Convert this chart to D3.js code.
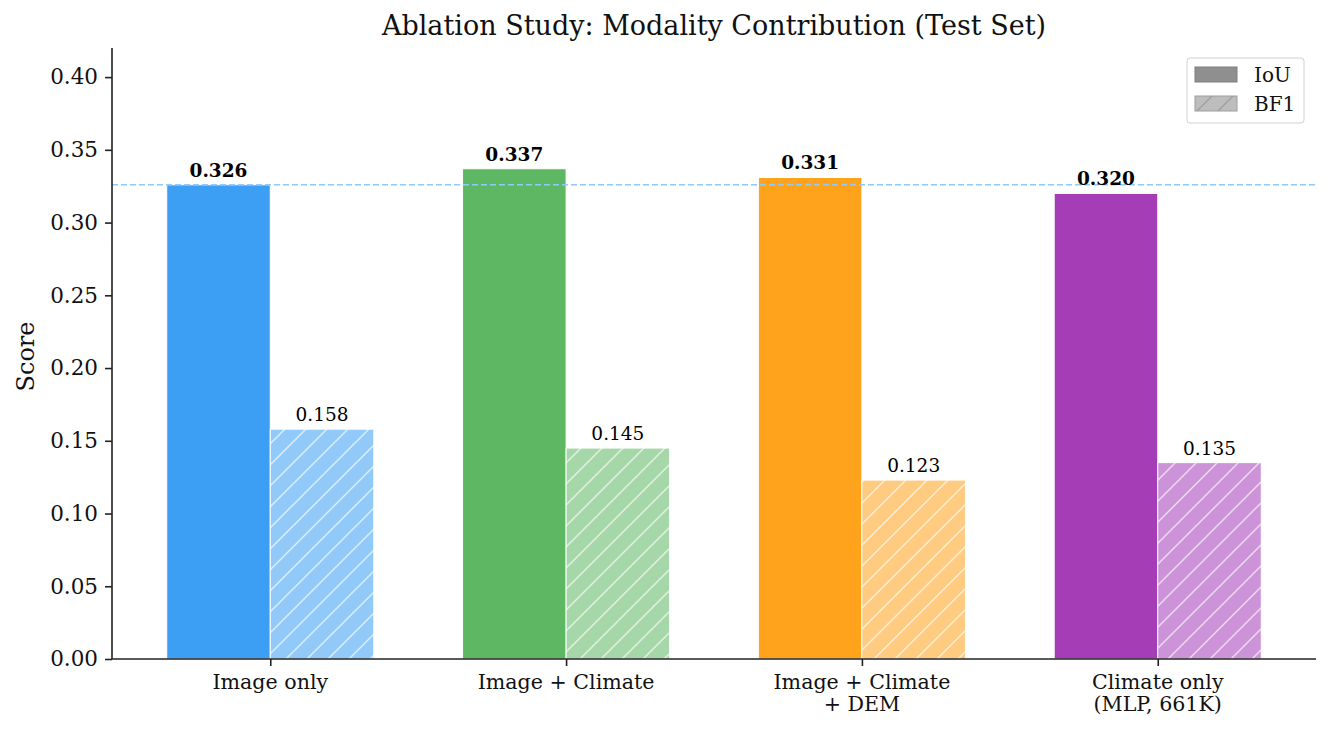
<!DOCTYPE html>
<html>
<head>
<meta charset="utf-8">
<script src="https://cdn.jsdelivr.net/npm/d3@7"></script>
<style>
  body { margin: 0; background: #fff; }
  svg { font-family: 'DejaVu Serif', serif; }
</style>
</head>
<body>
<div id="chart"></div>
<script>
// Data
const categories = ['Image only', 'Image + Climate', 'Image + Climate\n+ DEM', 'Climate only\n(MLP, 661K)'];
const iouValues = [0.326, 0.337, 0.331, 0.320];
const bf1Values = [0.158, 0.145, 0.123, 0.135];
const yTicks = [0, 0.05, 0.10, 0.15, 0.20, 0.25, 0.30, 0.35, 0.40];
const baseline = 0.326;

const iouColors = ['#3c9ff4', '#5eb762', '#ffa21c', '#a53db6'];
const bf1Colors = ['#91caf8', '#a6d7a8', '#ffcb80', '#cd93d8'];

const width = 1330;
const height = 730;
const margin = { top: 48, right: 14, bottom: 71, left: 112 };
const barW = 0.35;

const svg = d3.select('#chart')
  .append('svg')
  .attr('width', width)
  .attr('height', height);

const x = d3.scaleLinear()
  .domain([-0.535, categories.length - 1 + 0.535])
  .range([margin.left, width - margin.right]);

const y = d3.scaleLinear()
  .domain([0, 0.42])
  .range([height - margin.bottom, margin.top]);

// hatch patterns for BF1 bars
const defs = svg.append('defs');
const hatchPath = 'M-2,23 L23,-2 M-12,12 L12,-12 M9,33 L33,9';
bf1Colors.forEach((c, i) => {
  const p = defs.append('pattern')
    .attr('id', 'hatch' + i)
    .attr('patternUnits', 'userSpaceOnUse')
    .attr('width', 21)
    .attr('height', 21);
  p.append('rect').attr('width', 21).attr('height', 21).attr('fill', c);
  p.append('path')
    .attr('d', hatchPath)
    .attr('stroke', 'rgba(255,255,255,0.65)')
    .attr('stroke-width', 1.5);
});
defs.append('pattern')
  .attr('id', 'hatchLegend')
  .attr('patternUnits', 'userSpaceOnUse')
  .attr('width', 21)
  .attr('height', 21)
  .call(p => {
    p.append('rect').attr('width', 21).attr('height', 21).attr('fill', '#bdbdbd');
    p.append('path')
      .attr('d', hatchPath)
      .attr('stroke', '#9e9e9e')
      .attr('stroke-width', 1.4);
  });

// IoU bars
svg.append('g')
  .selectAll('rect')
  .data(iouValues)
  .join('rect')
  .attr('x', (d, i) => x(i - barW))
  .attr('y', d => y(d))
  .attr('width', (d, i) => x(i) - x(i - barW))
  .attr('height', d => y(0) - y(d))
  .attr('fill', (d, i) => iouColors[i])
  .attr('stroke', '#fff')
  .attr('stroke-width', 1);

// BF1 bars
svg.append('g')
  .selectAll('rect')
  .data(bf1Values)
  .join('rect')
  .attr('x', (d, i) => x(i))
  .attr('y', d => y(d))
  .attr('width', (d, i) => x(i + barW) - x(i))
  .attr('height', d => y(0) - y(d))
  .attr('fill', (d, i) => `url(#hatch${i})`)
  .attr('stroke', '#fff')
  .attr('stroke-width', 1);

// baseline dashed line
svg.append('line')
  .attr('x1', margin.left)
  .attr('x2', width - margin.right)
  .attr('y1', y(baseline))
  .attr('y2', y(baseline))
  .attr('stroke', '#90caf9')
  .attr('stroke-width', 1.3)
  .attr('stroke-dasharray', '6,3');

// value labels
svg.append('g')
  .selectAll('text')
  .data(iouValues)
  .join('text')
  .attr('x', (d, i) => x(i - barW / 2))
  .attr('y', d => y(d) - 8)
  .attr('text-anchor', 'middle')
  .attr('font-size', 18.5)
  .attr('font-weight', 'bold')
  .attr('fill', '#000')
  .text(d => d.toFixed(3));

svg.append('g')
  .selectAll('text')
  .data(bf1Values)
  .join('text')
  .attr('x', (d, i) => x(i + barW / 2))
  .attr('y', d => y(d) - 8)
  .attr('text-anchor', 'middle')
  .attr('font-size', 18.5)
  .attr('fill', '#000')
  .text(d => d.toFixed(3));

// axes
const yAxis = svg.append('g')
  .attr('transform', `translate(${margin.left},0)`)
  .call(d3.axisLeft(y).tickValues(yTicks).tickFormat(d3.format('.2f')).tickSize(7).tickPadding(7));

const xAxis = svg.append('g')
  .attr('transform', `translate(0,${height - margin.bottom})`)
  .call(d3.axisBottom(x).tickValues(d3.range(categories.length)).tickFormat('').tickSize(7));

[yAxis, xAxis].forEach(a => {
  a.select('.domain').attr('stroke', '#222').attr('stroke-width', 1.6);
  a.selectAll('.tick line').attr('stroke', '#222').attr('stroke-width', 1.6);
});
yAxis.select('.domain').attr('d', `M0,${height - margin.bottom}V${margin.top}`);
xAxis.select('.domain').attr('d', `M${margin.left},0H${width - margin.right}`);
yAxis.selectAll('.tick text')
  .attr('font-family', 'DejaVu Serif')
  .attr('font-size', 21.5)
  .attr('fill', '#111');

// x tick labels (multi-line)
const xl = svg.append('g')
  .selectAll('text')
  .data(categories)
  .join('text')
  .attr('x', (d, i) => x(i))
  .attr('y', height - margin.bottom + 30)
  .attr('text-anchor', 'middle')
  .attr('font-size', 20.6)
  .attr('fill', '#111');
xl.each(function (d) {
  const lines = d.split('\n');
  d3.select(this).selectAll('tspan')
    .data(lines)
    .join('tspan')
    .attr('x', d3.select(this).attr('x'))
    .attr('dy', (l, j) => j === 0 ? 0 : 21.5)
    .text(l => l);
});

// y label
svg.append('text')
  .attr('transform', `translate(34,${(margin.top + height - margin.bottom) / 2 + 3}) rotate(-90)`)
  .attr('text-anchor', 'middle')
  .attr('font-size', 24)
  .attr('fill', '#111')
  .text('Score');

// title
svg.append('text')
  .attr('x', (margin.left + width - margin.right) / 2)
  .attr('y', 35)
  .attr('text-anchor', 'middle')
  .attr('font-size', 27)
  .attr('fill', '#111')
  .text('Ablation Study: Modality Contribution (Test Set)');

// legend
const lg = svg.append('g').attr('transform', 'translate(1187,58)');
lg.append('rect')
  .attr('width', 117).attr('height', 65).attr('rx', 3)
  .attr('fill', '#fff').attr('stroke', '#d0d0d0');
const legendItems = [
  { label: 'IoU', fill: '#8f8f8f', stroke: '#7f7f7f' },
  { label: 'BF1', fill: 'url(#hatchLegend)', stroke: '#9e9e9e' }
];
legendItems.forEach((it, i) => {
  lg.append('rect')
    .attr('x', 8).attr('y', 9 + i * 29)
    .attr('width', 42).attr('height', 15)
    .attr('fill', it.fill).attr('stroke', it.stroke);
  lg.append('text')
    .attr('x', 67).attr('y', 24 + i * 29)
    .attr('font-size', 20)
    .attr('fill', '#111')
    .text(it.label);
});
</script>
</body>
</html>
